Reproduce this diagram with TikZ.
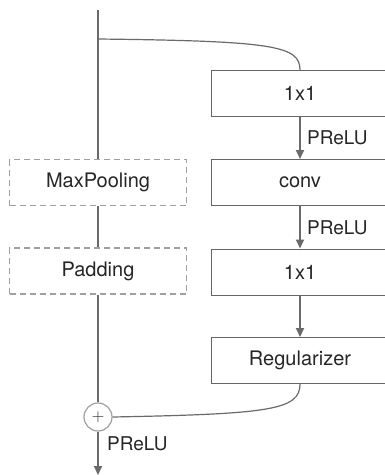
\documentclass[tikz,border=0pt]{standalone}
\usepackage{fontspec}
\setmainfont{TeX Gyre Heros}
\usetikzlibrary{arrows.meta}
\definecolor{txt}{HTML}{262626}
\definecolor{edge}{HTML}{666666}
\definecolor{wire}{HTML}{6A6A6A}
\definecolor{dash}{HTML}{A0A0A0}
\tikzset{
  layer/.style={draw=edge, line width=1pt, fill=white, minimum width=178pt,
    minimum height=46pt, inner sep=0pt, text=txt,
    font=\fontsize{20}{24}\selectfont},
  optlayer/.style={layer, draw=dash, dash pattern=on 6pt off 4pt, line width=1.2pt,
    minimum width=177pt},
  wireline/.style={draw=wire, line width=2.2pt},
  flow/.style={wireline, -{Triangle[width=8pt,length=9pt]}},
  skip/.style={draw=wire, line width=1.2pt},
  actlabel/.style={text=txt, font=\fontsize{19}{22}\selectfont, inner sep=0pt, anchor=west},
  adder/.style={circle, draw=dash, line width=1.2pt, fill=white, minimum size=28pt,
    inner sep=0pt, text=txt, font=\fontsize{18}{20}\selectfont}
}
\begin{document}
\begin{tikzpicture}[x=1pt, y=-1pt]
\useasboundingbox (0,0) rectangle (385,475);
\clip (0,0) rectangle (385,475);

% residual branch
\node[layer] (c1) at (300,93.5) {1x1};
\node[layer] (cv) at (300,182.5) {conv};
\node[layer] (c2) at (300,272) {1x1};
\node[layer] (rg) at (300,360.5) {Regularizer};

% main path operations
\node[optlayer] (mp) at (98,182.5) {MaxPooling};
\node[optlayer] (pd) at (98,271) {Padding};
\node[adder] (add) at (98,417) {$+$};

\coordinate (in) at (98,10);
\coordinate (fork) at (98,39);
\coordinate (out) at (98,475);

% main path
\draw[wireline] (in) -- (mp.north);
\draw[wireline] (mp.south) -- (pd.north);
\draw[wireline] (pd.south) -- (add.north);
\draw[flow] (add.south) -- (out);

% branch connections
\draw[skip] (fork) .. controls (275,41) and (300,46) .. (c1.north);
\draw[flow] (c1.south) -- node[actlabel, xshift=6pt] {PReLU} (cv.north);
\draw[flow] (cv.south) -- node[actlabel, xshift=6pt] {PReLU} (c2.north);
\draw[flow] (c2.south) -- (rg.north);
\draw[skip] (rg.south) .. controls (300,410) and (270,414) .. (add.east);

\node[actlabel] (act) at (107,444) {PReLU};
\end{tikzpicture}
\end{document}
